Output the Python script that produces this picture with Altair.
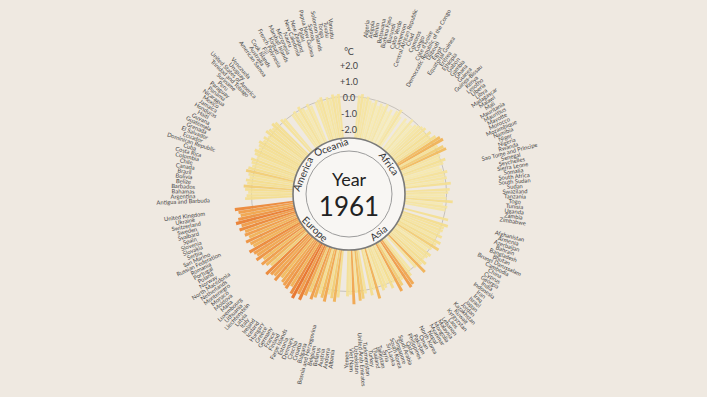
import math
import altair as alt
import pandas as pd

YEAR = "1961"
UNIT = "°C"

africa = ["Algeria", "Angola", "Benin", "Botswana", "Burkina Faso", "Burundi", "Cabo Verde", "Cameroon",
          "Central African Republic", "Chad", "Comoros", "Congo", "Côte d'Ivoire",
          "Democratic Republic of the Congo", "Djibouti", "Egypt", "Equatorial Guinea", "Eritrea", "Ethiopia",
          "Gabon", "Gambia", "Ghana", "Guinea", "Guinea-Bissau", "Kenya", "Lesotho", "Liberia", "Libya",
          "Madagascar", "Malawi", "Mali", "Mauritania", "Mauritius", "Mayotte", "Morocco", "Mozambique",
          "Namibia", "Niger", "Nigeria", "Rwanda", "Sao Tome and Principe", "Senegal", "Seychelles",
          "Sierra Leone", "Somalia", "South Africa", "South Sudan", "Sudan", "Swaziland", "Tanzania", "Togo",
          "Tunisia", "Uganda", "Zambia", "Zimbabwe"]
africa_vals = [0.2, 0.3, 0.1, 0.2, 0.0, -0.1, 0.1, -0.2, 0.0, -0.1,
               0.1, -0.3, -0.1, -0.4, 0.0, 0.2, -0.2, None, -0.1, -0.3,
               0.1, -0.2, 0.0, 0.1, 0.2, 0.3, 0.1, 0.4, 0.2, 0.5,
               0.7, 0.8, 0.3, 0.6, 0.7, 0.2, 0.1, 0.4, 0.2, -0.1,
               0.0, 0.3, 0.1, 0.2, 0.0, 0.4, None, 0.3, 0.2, 0.0,
               0.1, 0.5, -0.1, 0.2, 0.1]

asia = ["Afghanistan", "Armenia", "Azerbaijan", "Bahrain", "Bangladesh", "Bhutan", "Brunei Darussalam",
        "Cambodia", "China", "Cyprus", "Georgia", "India", "Indonesia", "Iran", "Iraq", "Israel", "Japan",
        "Jordan", "Kazakhstan", "Kuwait", "Kyrgyzstan", "Laos", "Lebanon", "Malaysia", "Mongolia", "Myanmar",
        "Nepal", "North Korea", "Oman", "Pakistan", "Philippines", "Qatar", "Saudi Arabia", "Singapore",
        "South Korea", "Sri Lanka", "Syria", "Tajikistan", "Thailand", "Turkey", "Turkmenistan",
        "United Arab Emirates", "Uzbekistan", "Viet Nam", "Yemen"]
asia_vals = [0.4, None, 0.5, 0.3, 0.3, 0.2, 0.4, 0.1, 0.5, 0.3,
             0.6, 0.2, 0.0, 0.4, 0.3, 0.2, 0.5, 0.3, 0.8, 0.2,
             None, 0.1, 0.4, 0.9, 1.0, 0.3, 0.6, 0.9, 0.2, 0.5,
             0.1, 0.3, 0.4, 0.0, 0.8, 0.2, 0.5, None, 0.3, 0.6,
             0.7, 0.2, 0.9, 0.3, 0.4]

europe = ["Albania", "Andorra", "Austria", "Belarus", "Belgium", "Bosnia and Herzegovina", "Bulgaria",
          "Croatia", "Czechia", "Denmark", "Estonia", "Faroe Islands", "Finland", "France", "Germany",
          "Greece", "Hungary", "Iceland", "Ireland", "Italy", "Latvia", "Liechtenstein", "Lithuania",
          "Luxembourg", "Malta", "Moldova", "Monaco", "Montenegro", "Netherlands", "North Macedonia",
          "Norway", "Poland", "Portugal", "Romania", "Russian Federation", "San Marino", "Serbia",
          "Slovakia", "Slovenia", "Spain", "Svalbard", "Sweden", "Switzerland", "Ukraine", "United Kingdom"]
europe_vals = [0.5, 0.8, 0.6, 0.4, 0.9, 0.7, 0.5, 0.8, 1.0, 0.6,
               0.9, 1.3, 1.0, 1.4, 1.2, 0.8, 1.1, 1.0, 0.9, 0.7,
               1.1, 0.9, 1.0, 1.2, 0.6, 0.8, 1.0, 0.7, 1.1, 0.9,
               1.0, 1.2, 0.8, 0.9, 1.1, 0.8, 1.0, 0.9, 1.2, 1.0,
               1.3, 1.1, 0.9, 1.0, 1.2]

america = ["Antigua and Barbuda", "Argentina", "Bahamas", "Barbados", "Belize", "Bolivia", "Brazil",
           "Canada", "Chile", "Colombia", "Costa Rica", "Cuba", "Dominican Republic", "Ecuador",
           "El Salvador", "Grenada", "Guatemala", "Guyana", "Haiti", "Honduras", "Jamaica", "Mexico",
           "Nicaragua", "Panama", "Paraguay", "Peru", "Suriname", "Trinidad and Tobago",
           "United States of America", "Uruguay", "Venezuela"]
america_vals = [0.5, 0.4, 0.3, 0.5, 0.6, 0.4, 0.5, 0.3, 0.4, 0.6,
                0.5, 0.3, 0.4, 0.5, 0.2, 0.4, 0.5, 0.3, 0.4, 0.5,
                0.3, 0.4, 0.2, 0.5, 0.4, 0.3, 0.5, 0.4, None, 0.3,
                0.2]

oceania = ["American Samoa", "Australia", "Cook Islands", "Fiji", "French Polynesia", "Kiribati",
           "Marshall Islands", "Micronesia", "Nauru", "New Caledonia", "New Zealand", "Palau",
           "Papua New Guinea", "Samoa", "Solomon Islands", "Tonga", "Tuvalu", "Vanuatu"]
oceania_vals = [0.1, 0.2, 0.0, 0.3, 0.1, -0.1, 0.2, 0.0, None, 0.1,
                0.2, 0.3, 0.0, 0.2, 0.1, 0.3, 0.2, 0.3]

continents = ["Africa", "Asia", "Europe", "America", "Oceania"]
groups = [(continents[0], africa, africa_vals), (continents[1], asia, asia_vals),
          (continents[2], europe, europe_vals), (continents[3], america, america_vals),
          (continents[4], oceania, oceania_vals)]

tick_values = [2.9, 2.0, 1.0, 0.0, -1.0, -2.0]
tick_labels = [UNIT, "+2.0", "+1.0", "0.0", "-1.0", "-2.0"]

# ---- layout of slots around the circle (gaps between continents)
LEAD, GAP, TAIL = 3, 2, 3
rows, crow = [], []
slot = LEAD
for cont, names, vals in groups:
    start = slot
    for n, v in zip(names, vals):
        rows.append({"country": n, "continent": cont, "value": v, "slot": slot})
        slot += 1
    crow.append({"continent": cont, "mid": (start + slot) / 2})
    slot += GAP
N = slot - GAP + TAIL

df = pd.DataFrame(rows)
df["tc"] = df["slot"] + 0.5
deg = df["tc"] / N * 360
df["ang"] = [((d - 90) % 360) if d < 180 else ((d - 270) % 360) for d in deg]
cdf = pd.DataFrame(crow)
cdeg = cdf["mid"] / N * 360
cdf["ang"] = [(d % 360) if (d < 90 or d > 270) else ((d - 180) % 360) for d in cdeg]
tdf = pd.DataFrame({"v": tick_values, "label": tick_labels})
one = pd.DataFrame({"a": [0]})

TWO_PI = 2 * math.pi
theta_scale = alt.Scale(domain=[0, N], range=[0, TWO_PI])
r_scale = alt.Scale(type="linear", domain=[-2.5, 2.0], range=[56, 128], zero=False)
FONT = "Lato"

ring = alt.Chart(one).mark_arc(fillOpacity=0, stroke="#bdb7b0", strokeWidth=0.8).encode(
    theta=alt.value(0), theta2=alt.value(TWO_PI), radius=alt.value(97.5), radius2=alt.value(0))

bars = alt.Chart(df).transform_filter("datum.value != null").transform_calculate(
    t0="datum.slot + 0.05", t1="datum.slot + 0.95"
).mark_arc(opacity=0.95).encode(
    theta=alt.Theta("t0:Q", stack=None, scale=theta_scale),
    theta2="t1:Q",
    radius=alt.Radius("value:Q", scale=r_scale),
    radius2=alt.value(56),
    color=alt.Color("value:Q", legend=None, scale=alt.Scale(
        domain=[-0.6, 0.0, 0.5, 0.7, 1.0, 1.4],
        range=["#f7f0cc", "#f5e8aa", "#f3dd8e", "#f1bc5e", "#ef9c48", "#e7732a"])),
)

disk = alt.Chart(one).mark_arc(fill="#f8f6f3", stroke="#7a7a7a", strokeWidth=1.6).encode(
    theta=alt.value(0), theta2=alt.value(TWO_PI), radius=alt.value(56), radius2=alt.value(0))
inner = alt.Chart(one).mark_arc(fillOpacity=0, stroke="#9c9c9c", strokeWidth=1).encode(
    theta=alt.value(0), theta2=alt.value(TWO_PI), radius=alt.value(43), radius2=alt.value(0))

cont_text = alt.Chart(cdf).mark_text(font=FONT, fontSize=10, color="#333333", baseline="middle").encode(
    theta=alt.Theta("mid:Q", stack=None, scale=theta_scale),
    radius=alt.value(49.5),
    angle=alt.Angle("ang:Q", scale=None),
    text="continent:N",
)

country_text = alt.Chart(df).mark_text(font=FONT, fontSize=5.8, color="#474747", baseline="middle",
                                       align="center").encode(
    theta=alt.Theta("tc:Q", stack=None, scale=theta_scale),
    radius=alt.value(166),
    angle=alt.Angle("ang:Q", scale=None),
    text="country:N",
)

ticks = alt.Chart(tdf).mark_text(font=FONT, fontSize=9, color="#444444", baseline="middle").encode(
    theta=alt.value(0),
    radius=alt.Radius("v:Q", scale=r_scale),
    text="label:N",
)

year_lbl = alt.Chart(one).mark_text(font=FONT, fontSize=18, color="#222222", baseline="middle").encode(
    x=alt.value(349), y=alt.value(181), text=alt.value("Year"))
year_val = alt.Chart(one).mark_text(font=FONT, fontSize=26, color="#222222", baseline="middle").encode(
    x=alt.value(349), y=alt.value(208), text=alt.value(YEAR))

chart = alt.layer(ring, bars, disk, inner, cont_text, country_text, ticks, year_lbl, year_val).properties(
    width=698, height=388,
    autosize=alt.AutoSizeParams(type="none"),
    padding={"left": 0, "top": 0, "right": 9, "bottom": 9},
    background="#efe9e1",
).configure_view(strokeWidth=0)

chart.save("out.html", embed_options={"renderer": "svg", "actions": False})
